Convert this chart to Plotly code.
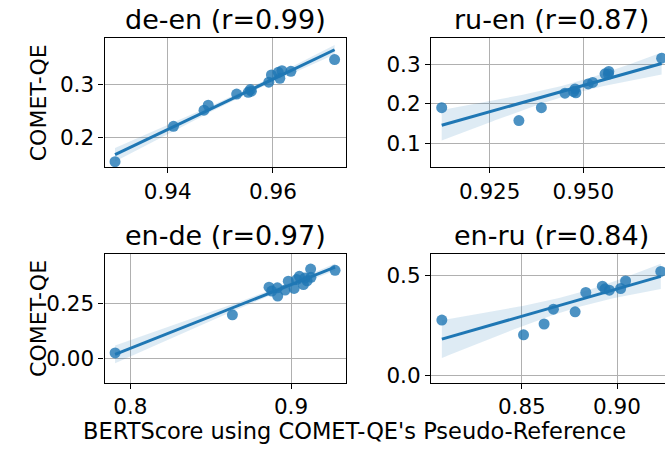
import numpy as np
import plotly.graph_objects as go

# ---------------- data ----------------
titles = ["de-en (r=0.99)", "ru-en (r=0.87)", "en-de (r=0.97)", "en-ru (r=0.84)"]

deen_x = [0.9300, 0.9411, 0.9469, 0.9477, 0.9531, 0.9553, 0.9559, 0.9557, 0.9592, 0.9597, 0.9610, 0.9617, 0.9613, 0.9634, 0.9717]
deen_y = [0.155, 0.2217, 0.2522, 0.2615, 0.2826, 0.2860, 0.2880, 0.2910, 0.3050, 0.3186, 0.3236, 0.3267, 0.3124, 0.3255, 0.3478]

ruen_x = [0.9122, 0.9328, 0.9388, 0.9451, 0.9478, 0.9480, 0.9474, 0.9513, 0.9525, 0.9558, 0.9568, 0.9567, 0.9709]
ruen_y = [0.190, 0.1575, 0.190, 0.2267, 0.2375, 0.2275, 0.2310, 0.2500, 0.2540, 0.2758, 0.2817, 0.2750, 0.315]

ende_x = [0.7905, 0.8635, 0.8863, 0.8880, 0.8915, 0.8917, 0.8963, 0.8983, 0.9019, 0.9035, 0.9052, 0.9077, 0.9087, 0.9124, 0.9122, 0.9100, 0.9274]
ende_y = [0.027, 0.2006, 0.3263, 0.3084, 0.3234, 0.2860, 0.3129, 0.3533, 0.3204, 0.3608, 0.3757, 0.3383, 0.3683, 0.3712, 0.4087, 0.3550, 0.4027]

enru_x = [0.808, 0.8509, 0.8617, 0.8666, 0.8780, 0.8836, 0.8923, 0.8937, 0.8960, 0.9019, 0.9045, 0.9230]
enru_y = [0.2761, 0.2026, 0.2565, 0.330, 0.317, 0.4134, 0.4444, 0.4314, 0.4248, 0.433, 0.4706, 0.518]

x_ranges = [[0.9280, 0.97377], [0.90934, 0.9718], [0.7839, 0.9339], [0.8023, 0.9252]]
y_ranges = [[0.1449, 0.3875], [0.040, 0.365], [-0.1078, 0.4759], [-0.0343, 0.603]]

x_tickvals = [[0.94, 0.96], [0.925, 0.950], [0.8, 0.9], [0.85, 0.90]]
x_ticktext = [["0.94", "0.96"], ["0.925", "0.950"], ["0.8", "0.9"], ["0.85", "0.90"]]
y_tickvals = [[0.2, 0.3], [0.1, 0.2, 0.3], [0.0, 0.25], [0.0, 0.5]]
y_ticktext = [["0.2", "0.3"], ["0.1", "0.2", "0.3"], ["0.00", "0.25"], ["0.0", "0.5"]]

y_label = "COMET-QE"
x_label = "BERTScore using COMET-QE's Pseudo-Reference"

series = [(deen_x, deen_y), (ruen_x, ruen_y), (ende_x, ende_y), (enru_x, enru_y)]

# ---------------- layout geometry ----------------
W, H = 665, 451
FONT = "DejaVu Sans"
BLUE = "#1f77b4"
TICK_SIZE = 21.5

def px_x(p):
    return p / W

def px_y(p):
    return (H - p) / H

x_domains = [[px_x(104.5), px_x(345.5)], [px_x(431), 1.0], [px_x(104.5), px_x(345.5)], [px_x(431), 1.0]]
y_domains = [[px_y(169.3), px_y(39)], [px_y(169.3), px_y(39)], [px_y(387.7), px_y(257.7)], [px_y(387.7), px_y(257.7)]]

T_CRIT = {10: 2.228, 11: 2.201, 12: 2.179, 13: 2.160, 14: 2.145, 15: 2.131}

fig = go.Figure()

for i, (xs, ys) in enumerate(series):
    xa = "x" if i == 0 else f"x{i+1}"
    ya = "y" if i == 0 else f"y{i+1}"
    x = np.array(xs)
    y = np.array(ys)
    n = len(x)
    b, a = np.polyfit(x, y, 1)
    xg = np.linspace(x.min(), x.max(), 100)
    yg = a + b * xg
    resid = y - (a + b * x)
    s = np.sqrt(np.sum(resid ** 2) / (n - 2))
    sxx = np.sum((x - x.mean()) ** 2)
    se = s * np.sqrt(1.0 / n + (xg - x.mean()) ** 2 / sxx)
    t = T_CRIT.get(n - 2, 2.1)
    lo = yg - t * se
    hi = yg + t * se
    fig.add_trace(go.Scatter(x=np.concatenate([xg, xg[::-1]]), y=np.concatenate([hi, lo[::-1]]),
                             fill="toself", fillcolor="rgba(31,119,180,0.15)", line=dict(width=0),
                             mode="lines", hoverinfo="skip", showlegend=False, xaxis=xa, yaxis=ya))
    fig.add_trace(go.Scatter(x=x, y=y, mode="markers",
                             marker=dict(color=BLUE, size=11, opacity=0.8, line=dict(width=0)),
                             showlegend=False, xaxis=xa, yaxis=ya))
    fig.add_trace(go.Scatter(x=xg, y=yg, mode="lines", line=dict(color=BLUE, width=3),
                             showlegend=False, xaxis=xa, yaxis=ya))

layout = dict(width=W, height=H, margin=dict(l=0, r=0, t=0, b=0),
              paper_bgcolor="white", plot_bgcolor="white",
              font=dict(family=FONT, color="black", size=21), showlegend=False)

for i in range(4):
    xk = "xaxis" if i == 0 else f"xaxis{i+1}"
    yk = "yaxis" if i == 0 else f"yaxis{i+1}"
    full_box = i in (0, 2)
    layout[xk] = dict(domain=x_domains[i], range=x_ranges[i], anchor="y" if i == 0 else f"y{i+1}",
                      tickvals=x_tickvals[i], ticktext=x_ticktext[i],
                      showgrid=True, gridcolor="#b0b0b0", gridwidth=1, zeroline=False,
                      showline=True, linecolor="black", linewidth=1.2, mirror=True,
                      ticks="outside", ticklen=5, tickcolor="black", tickwidth=1,
                      tickfont=dict(family=FONT, size=TICK_SIZE, color="black"))
    layout[yk] = dict(domain=y_domains[i], range=y_ranges[i], anchor="x" if i == 0 else f"x{i+1}",
                      tickvals=y_tickvals[i], ticktext=y_ticktext[i],
                      showgrid=True, gridcolor="#b0b0b0", gridwidth=1, zeroline=False,
                      showline=True, linecolor="black", linewidth=1.2, mirror=full_box,
                      ticks="outside", ticklen=5, tickcolor="black", tickwidth=1,
                      tickfont=dict(family=FONT, size=TICK_SIZE, color="black"))

annotations = []
centers = [(104.5 + 345.5) / 2, (431 + 672) / 2, (104.5 + 345.5) / 2, (431 + 672) / 2]
title_y = [20, 20, 239, 239]
for i in range(4):
    annotations.append(dict(text=titles[i], x=px_x(centers[i]), y=px_y(title_y[i]), xref="paper", yref="paper",
                            xanchor="center", yanchor="middle", showarrow=False,
                            font=dict(family=FONT, size=27, color="black")))
for cy in [(39 + 169.3) / 2, (257.7 + 387.7) / 2]:
    annotations.append(dict(text=y_label, x=px_x(38.5), y=px_y(cy), xref="paper", yref="paper",
                            xanchor="center", yanchor="middle", showarrow=False, textangle=-90,
                            font=dict(family=FONT, size=22, color="black")))
annotations.append(dict(text=x_label, x=px_x(354), y=px_y(437), xref="paper", yref="paper",
                        xanchor="center", yanchor="middle", showarrow=False,
                        font=dict(family=FONT, size=22.5, color="black")))
layout["annotations"] = annotations

fig.update_layout(**layout)
fig.write_html("out.html", config={"displayModeBar": False},
               post_script="document.body.style.margin='0';document.body.style.padding='0';")
